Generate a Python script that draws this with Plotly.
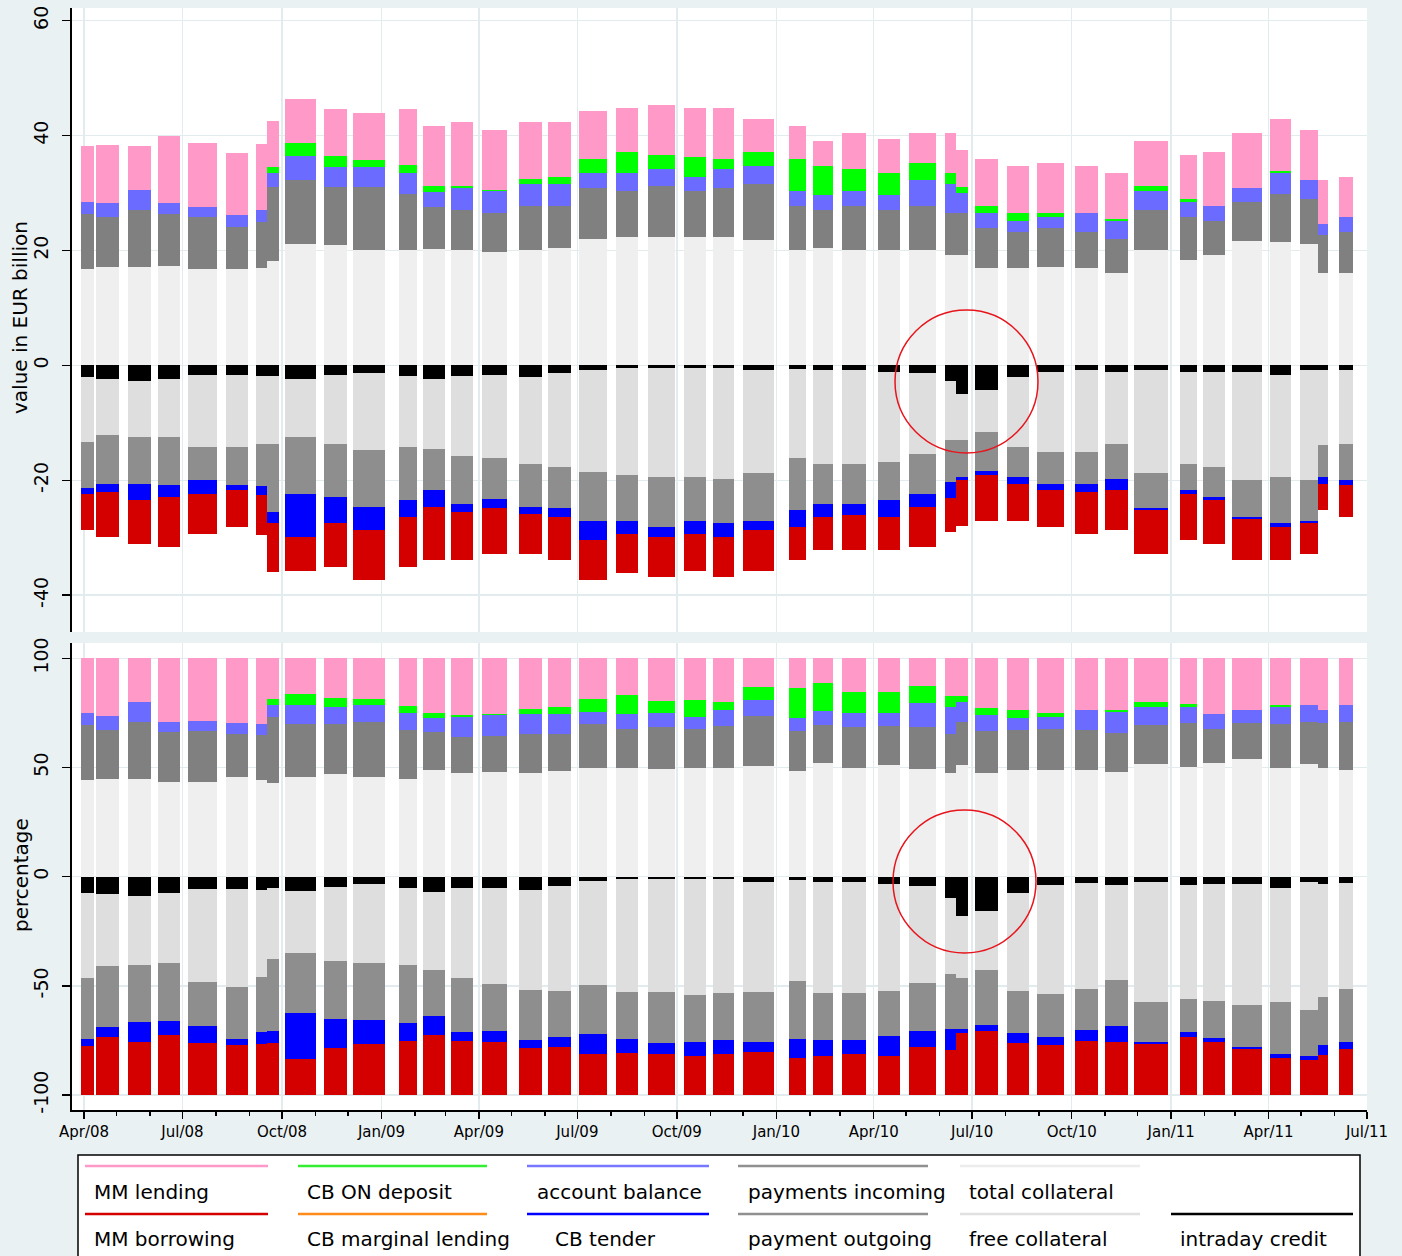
import plotly.graph_objects as go
import pandas as pd

# ---------------- data ----------------
period_start = ["2008-03-29", "2008-04-12", "2008-05-12", "2008-06-08", "2008-07-06", "2008-08-10",
                "2008-09-07", "2008-09-17", "2008-10-04", "2008-11-09", "2008-12-06", "2009-01-17",
                "2009-02-08", "2009-03-06", "2009-04-04", "2009-05-08", "2009-06-04", "2009-07-03",
                "2009-08-06", "2009-09-04", "2009-10-08", "2009-11-03", "2009-12-01", "2010-01-13",
                "2010-02-04", "2010-03-03", "2010-04-05", "2010-05-04", "2010-06-06", "2010-06-16",
                "2010-07-04", "2010-08-02", "2010-08-30", "2010-10-04", "2010-11-01", "2010-11-28",
                "2011-01-09", "2011-01-30", "2011-02-26", "2011-04-02", "2011-04-30", "2011-05-17",
                "2011-06-05"]
period_end = ["2008-04-10", "2008-05-03", "2008-06-02", "2008-06-29", "2008-08-02", "2008-08-31",
              "2008-09-17", "2008-09-28", "2008-11-01", "2008-11-30", "2009-01-04", "2009-02-03",
              "2009-03-01", "2009-03-27", "2009-04-27", "2009-05-29", "2009-06-25", "2009-07-28",
              "2009-08-26", "2009-09-29", "2009-10-28", "2009-11-23", "2009-12-30", "2010-01-28",
              "2010-02-22", "2010-03-25", "2010-04-25", "2010-05-29", "2010-06-16", "2010-06-27",
              "2010-07-25", "2010-08-23", "2010-09-24", "2010-10-25", "2010-11-22", "2010-12-29",
              "2011-01-25", "2011-02-20", "2011-03-26", "2011-04-22", "2011-05-17", "2011-05-26",
              "2011-06-18"]

# sources (positive side), EUR billion
total_collateral = [16.8, 17.1, 17.1, 17.3, 16.8, 16.8, 17.0, 18.2, 21.2, 20.9, 20.0, 20.0, 20.3,
                    20.0, 19.7, 20.1, 20.4, 22.0, 22.3, 22.3, 22.3, 22.3, 21.8, 20.1, 20.4, 20.1,
                    20.1, 20.0, 19.2, 19.2, 17.0, 17.0, 17.2, 17.0, 16.0, 20.1, 18.4, 19.3, 21.7,
                    21.4, 21.1, 16.0, 16.0]
payments_incoming = [9.6, 8.7, 9.9, 9.1, 9.0, 7.3, 8.0, 12.8, 11.1, 10.2, 11.1, 9.9, 7.3, 7.1, 6.8,
                     7.6, 7.3, 8.9, 8.0, 8.9, 8.0, 8.6, 9.7, 7.6, 6.7, 7.6, 7.0, 7.7, 7.3, 7.3, 6.9,
                     6.3, 6.7, 6.3, 6.0, 7.0, 7.4, 5.9, 6.7, 8.5, 7.9, 6.7, 7.3]
account_balance = [2.1, 2.4, 3.5, 1.8, 1.8, 2.0, 2.0, 2.5, 4.1, 3.5, 3.5, 3.5, 2.6, 3.8, 3.8, 3.8,
                   3.8, 2.5, 3.1, 2.9, 2.5, 3.2, 3.2, 2.6, 2.5, 2.6, 2.5, 4.5, 5.0, 3.5, 2.6, 1.9,
                   1.9, 3.2, 3.2, 3.2, 2.6, 2.5, 2.5, 3.5, 3.2, 1.9, 2.5]
cb_on_deposit = [0.0, 0.0, 0.0, 0.0, 0.0, 0.0, 0.0, 1.0, 2.3, 1.8, 1.2, 1.5, 1.0, 0.4, 0.3, 1.0, 1.3,
                 2.5, 3.8, 2.5, 3.5, 1.8, 2.5, 5.6, 5.1, 3.8, 3.8, 3.1, 2.0, 1.0, 1.2, 1.3, 0.7, 0.0,
                 0.3, 1.0, 0.5, 0.0, 0.0, 0.4, 0.0, 0.0, 0.0]
mm_lending = [9.6, 10.2, 7.6, 11.7, 11.1, 10.9, 11.5, 8.0, 7.6, 8.2, 8.2, 9.7, 10.4, 11.0, 10.4, 9.8,
              9.5, 8.3, 7.6, 8.8, 8.5, 8.9, 5.7, 5.7, 4.4, 6.3, 6.0, 5.1, 7.0, 6.5, 8.2, 8.2, 8.8,
              8.2, 8.0, 7.8, 7.7, 9.5, 9.5, 9.1, 8.8, 7.6, 7.0]

# uses (negative side), EUR billion (magnitudes)
intraday_credit = [2.1, 2.4, 2.7, 2.4, 1.6, 1.6, 1.8, 1.8, 2.4, 1.6, 1.3, 1.8, 2.4, 1.8, 1.7, 2.0,
                   1.4, 0.8, 0.4, 0.4, 0.4, 0.4, 0.8, 0.6, 0.8, 0.8, 1.1, 1.4, 2.8, 5.0, 4.2, 2.0,
                   1.1, 0.8, 1.1, 0.8, 1.1, 1.1, 1.1, 1.7, 0.8, 0.8, 0.8]
free_collateral = [11.2, 9.8, 9.8, 10.1, 12.6, 12.6, 11.8, 11.8, 10.1, 12.0, 13.5, 12.4, 12.1, 13.9,
                   14.5, 15.1, 16.3, 17.8, 18.7, 19.0, 19.0, 19.3, 18.0, 15.6, 16.3, 16.3, 15.7,
                   14.0, 10.2, 8.0, 7.4, 12.2, 14.0, 14.3, 12.5, 18.0, 16.0, 16.6, 18.9, 17.7, 19.2,
                   13.1, 12.8]
payment_outgoing = [8.1, 8.4, 8.1, 8.4, 5.8, 6.7, 7.4, 11.9, 9.8, 9.3, 9.8, 9.3, 7.2, 8.4, 7.0, 7.5,
                    7.2, 8.4, 7.9, 8.7, 7.6, 7.8, 8.2, 9.0, 7.0, 7.0, 6.7, 6.9, 7.3, 6.5, 6.7, 5.2,
                    5.5, 5.5, 6.1, 6.1, 4.6, 5.2, 6.4, 8.1, 7.0, 5.5, 6.4]
cb_marginal_lending = [0.0] * 43
cb_tender = [0.9, 1.4, 2.9, 2.0, 2.3, 0.8, 1.6, 2.0, 7.6, 4.6, 4.1, 2.9, 2.9, 1.4, 1.7, 1.2, 1.5,
             3.4, 2.3, 1.8, 2.3, 2.4, 1.7, 2.9, 2.3, 2.0, 2.9, 2.3, 2.7, 0.5, 0.8, 1.2, 1.1, 1.4,
             2.0, 0.3, 0.6, 0.6, 0.3, 0.6, 0.5, 1.2, 0.9]
mm_borrowing = [6.4, 7.9, 7.5, 8.7, 7.0, 6.4, 6.9, 8.5, 5.8, 7.6, 8.7, 8.7, 9.3, 8.4, 7.9, 7.0, 7.5,
                7.0, 6.9, 6.9, 6.4, 6.9, 7.0, 5.8, 5.8, 6.1, 5.8, 7.0, 6.0, 8.0, 7.9, 6.4, 6.4, 7.3,
                7.0, 7.6, 8.1, 7.5, 7.2, 5.8, 5.3, 4.6, 5.5]

tick_dates = ["2008-04-01", "2008-07-01", "2008-10-01", "2009-01-01", "2009-04-01", "2009-07-01",
              "2009-10-01", "2010-01-01", "2010-04-01", "2010-07-01", "2010-10-01", "2011-01-01",
              "2011-04-01", "2011-07-01"]
tick_labels = ["Apr/08", "Jul/08", "Oct/08", "Jan/09", "Apr/09", "Jul/09", "Oct/09", "Jan/10",
               "Apr/10", "Jul/10", "Oct/10", "Jan/11", "Apr/11", "Jul/11"]
top_ticks = [-40, -20, 0, 20, 40, 60]
bottom_ticks = [-100, -50, 0, 50, 100]

# ---------------- figure ----------------
W, H = 1402, 1256
def px(x):
    return x / W
def py(y):
    return 1 - y / H

starts = pd.to_datetime(period_start)
ends = pd.to_datetime(period_end)
mid = starts + (ends - starts) / 2
widths = [(e - s).total_seconds() * 1000 for s, e in zip(starts, ends)]

pos_series = [
    (total_collateral, "#efefef"),
    (payments_incoming, "#808080"),
    (account_balance, "#6b6bff"),
    (cb_on_deposit, "#00ff00"),
    (mm_lending, "#ff99c8"),
]
neg_series = [
    (intraday_credit, "#000000"),
    (free_collateral, "#dedede"),
    (payment_outgoing, "#8e8e8e"),
    (cb_marginal_lending, "#ff8c1a"),
    (cb_tender, "#0000ff"),
    (mm_borrowing, "#d40000"),
]
n = len(period_start)
for vals, _ in pos_series + neg_series:
    assert len(vals) == n
pos_tot = [sum(v) for v in zip(*[s[0] for s in pos_series])]
neg_tot = [sum(v) for v in zip(*[s[0] for s in neg_series])]

fig = go.Figure()
for vals, col in pos_series:
    fig.add_bar(x=mid, y=vals, width=widths, marker=dict(color=col, line_width=0),
                xaxis="x2", yaxis="y2", showlegend=False, hoverinfo="skip")
    fig.add_bar(x=mid, y=[v / t * 100 for v, t in zip(vals, pos_tot)], width=widths,
                marker=dict(color=col, line_width=0), xaxis="x", yaxis="y",
                showlegend=False, hoverinfo="skip")
for vals, col in neg_series:
    fig.add_bar(x=mid, y=[-v for v in vals], width=widths, marker=dict(color=col, line_width=0),
                xaxis="x2", yaxis="y2", showlegend=False, hoverinfo="skip")
    fig.add_bar(x=mid, y=[-v / t * 100 for v, t in zip(vals, neg_tot)], width=widths,
                marker=dict(color=col, line_width=0), xaxis="x", yaxis="y",
                showlegend=False, hoverinfo="skip")

GRID = "#e2ebee"
FONT = "DejaVu Sans"
xdom = [px(72), px(1367)]
xrange_ = ["2008-03-20 21:00", "2011-07-01"]

fig.update_layout(
    template="none",
    autosize=False,
    width=W, height=H,
    margin=dict(l=0, r=0, t=0, b=0, pad=0, autoexpand=False),
    paper_bgcolor="#eaf1f3",
    plot_bgcolor="white",
    barmode="relative",
    bargap=0,
    font=dict(family=FONT, color="black"),
    xaxis=dict(domain=xdom, anchor="y", type="date", range=xrange_, automargin=False,
               tickmode="array", tickvals=tick_dates, ticktext=tick_labels,
               ticks="outside", ticklen=7, tickwidth=1.5, tickcolor="black",
               tickfont=dict(size=15, family=FONT),
               showline=True, linecolor="black", linewidth=2,
               showgrid=True, gridcolor=GRID, gridwidth=1.5, zeroline=False,
               minor=dict(ticks="outside", ticklen=4, tickwidth=1.5, tickcolor="black",
                          dtick="M1", tick0="2008-04-01", showgrid=False)),
    xaxis2=dict(domain=xdom, anchor="y2", type="date", range=xrange_, matches="x",
                automargin=False,
                tickmode="array", tickvals=tick_dates, showticklabels=False, ticks="",
                showline=False, showgrid=True, gridcolor=GRID, gridwidth=1.5, zeroline=False),
    yaxis=dict(domain=[py(1110), py(643)], anchor="x", range=[-106.9, 107.0], automargin=False,
               tickmode="array", tickvals=bottom_ticks, ticktext=[str(t) for t in bottom_ticks],
               tickangle=-90, ticks="outside", ticklen=8, tickwidth=1.5, tickcolor="black",
               tickfont=dict(size=19, family=FONT), ticklabelstandoff=6,
               showline=True, linecolor="black", linewidth=2,
               showgrid=True, gridcolor=GRID, gridwidth=1.5, zeroline=False),
    yaxis2=dict(domain=[py(632), py(8)], anchor="x2", range=[-46.4, 62.2], automargin=False,
                tickmode="array", tickvals=top_ticks, ticktext=[str(t) for t in top_ticks],
                tickangle=-90, ticks="outside", ticklen=8, tickwidth=1.5, tickcolor="black",
                tickfont=dict(size=19, family=FONT), ticklabelstandoff=6,
                showline=True, linecolor="black", linewidth=2,
                showgrid=True, gridcolor=GRID, gridwidth=1.5, zeroline=False),
)

shapes = []
annotations = []
# axis titles
annotations.append(dict(x=px(20), y=py(318), xref="paper", yref="paper", text="value in EUR billion",
                        textangle=-90, showarrow=False, font=dict(size=20, family=FONT),
                        xanchor="center", yanchor="middle"))
annotations.append(dict(x=px(21), y=py(875), xref="paper", yref="paper", text="percentage",
                        textangle=-90, showarrow=False, font=dict(size=20, family=FONT),
                        xanchor="center", yanchor="middle"))

# red highlight circles
for (x0, x1, y0, y1) in [(895, 1038, 310, 453), (893, 1036, 810, 953)]:
    shapes.append(dict(type="circle", xref="paper", yref="paper", x0=px(x0), x1=px(x1),
                       y0=py(y1), y1=py(y0), line=dict(color="#e8141c", width=1.5)))

# legend box
shapes.append(dict(type="rect", xref="paper", yref="paper", x0=px(78), x1=px(1360),
                   y0=py(1266), y1=py(1155), line=dict(color="black", width=1.5),
                   fillcolor="white", layer="below"))
legend_entries = [
    (0, 0, "MM lending", "#ff99c8"), (1, 0, "CB ON deposit", "#33ee33"),
    (2, 0, "account balance", "#7777ff"), (3, 0, "payments incoming", "#909090"),
    (4, 0, "total collateral", "#ececec"),
    (0, 1, "MM borrowing", "#d40000"), (1, 1, "CB marginal lending", "#ff8c1a"),
    (2, 1, "CB tender", "#0000ff"), (3, 1, "payment outgoing", "#909090"),
    (4, 1, "free collateral", "#e0e0e0"), (5, 1, "intraday credit", "#000000"),
]
col_lines = [(85, 268), (298, 487), (527, 709), (738, 928), (960, 1140), (1171, 1353)]
col_text = [92, 305, 535, 746, 967, 1178]
row_line_y = [1166, 1214]
row_text_y = [1192, 1239]
for c, r, label, color in legend_entries:
    x0, x1 = col_lines[c]
    shapes.append(dict(type="line", xref="paper", yref="paper", x0=px(x0), x1=px(x1),
                       y0=py(row_line_y[r]), y1=py(row_line_y[r]),
                       line=dict(color=color, width=2.5)))
    tx = col_text[c] + (18 if (c == 2 and r == 1) else 0)
    annotations.append(dict(x=px(tx), y=py(row_text_y[r]), xref="paper", yref="paper",
                            text=label, showarrow=False, xanchor="left", yanchor="middle",
                            font=dict(size=20, family=FONT, color="black")))

fig.update_layout(shapes=shapes, annotations=annotations)
fig.write_html("out.html", config={"displayModeBar": False, "staticPlot": True},
               post_script="document.body.style.margin='0';document.body.style.overflow='hidden';")
